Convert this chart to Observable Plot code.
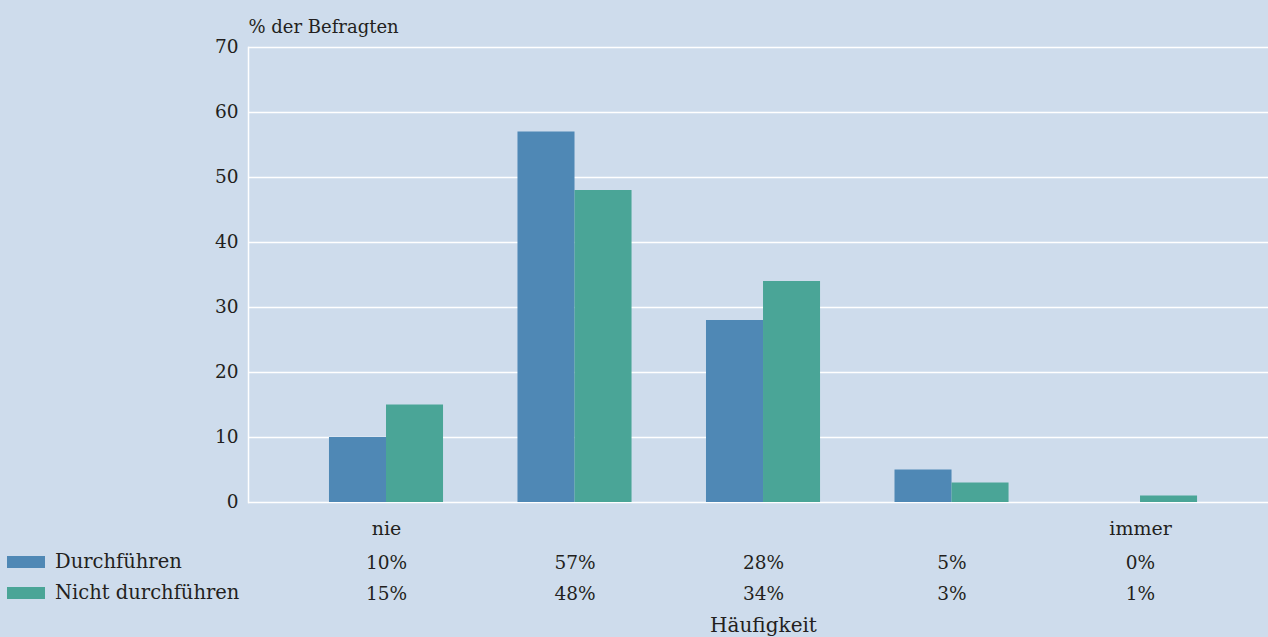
<!DOCTYPE html>
<html>
<head>
<meta charset="utf-8">
<script src="https://cdn.jsdelivr.net/npm/d3@7"></script>
<script src="https://cdn.jsdelivr.net/npm/@observablehq/plot@0.6"></script>
<style>
  html, body { margin: 0; padding: 0; background: #cedcec; }
  #wrap { position: relative; width: 1268px; height: 637px; background: #cedcec; font-family: "DejaVu Serif", serif; color: #231f20; }
  #legend { position: absolute; left: 7px; top: 546px; font-size: 19.5px; }
  .row { display: flex; align-items: center; height: 31px; }
  .sw { width: 38px; height: 12px; margin-right: 10px; }
</style>
</head>
<body>
<div id="wrap"><div id="legend"></div></div>
<script>
// ---- data ----
const categories = ["1", "2", "3", "4", "5"];
const scaleLabels = ["nie", "", "", "", "immer"];
const seriesNames = ["Durchführen", "Nicht durchführen"];
const durchfuehren = [10, 57, 28, 5, 0];
const nichtDurchfuehren = [15, 48, 34, 3, 1];
const yTicks = [0, 10, 20, 30, 40, 50, 60, 70];
const colors = ["#4f88b5", "#4aa597"];
const yLabel = "% der Befragten";
const xLabel = "Häufigkeit";

const rows = categories.map((c, i) => ({
  cat: c, label: scaleLabels[i], d: durchfuehren[i], n: nichtDurchfuehren[i]
}));

const W = 1268, H = 637, mL = 248, mR = 0, mT = 47, mB = 135;
const xOpts = { paddingInner: 0.395, paddingOuter: 0.403, align: 0.533 };
const band = d3.scaleBand(categories, [mL, W - mR])
  .paddingInner(xOpts.paddingInner).paddingOuter(xOpts.paddingOuter).align(xOpts.align);
const half = band.bandwidth() / 2;

const plot = Plot.plot({
  width: W, height: H,
  marginLeft: mL, marginRight: mR, marginTop: mT, marginBottom: mB,
  style: { background: "transparent", fontFamily: "DejaVu Serif, serif", color: "#231f20", fontSize: "18px", overflow: "visible" },
  x: { domain: categories, round: false, ...xOpts, axis: null },
  y: { domain: [0, 70], axis: null },
  marks: [
    Plot.gridY(yTicks, { stroke: "white", strokeOpacity: 1, strokeWidth: 1.5 }),
    Plot.frame({ anchor: "left", stroke: "white", strokeWidth: 1.5 }),
    Plot.barY(rows, { x: "cat", y: "d", fill: colors[0], insetRight: half, insetLeft: 0 }),
    Plot.barY(rows, { x: "cat", y: "n", fill: colors[1], insetLeft: half, insetRight: 0 }),
    Plot.axisY({ ticks: yTicks, tickSize: 0, tickPadding: 10, fontSize: 18.5, label: null, tickFormat: d => d }),
    Plot.text([yLabel], { frameAnchor: "top-left", dy: -27, textAnchor: "start", fontSize: 18 }),
    Plot.text(rows, { x: "cat", text: "label", frameAnchor: "bottom", dy: 32, fontSize: 19 }),
    Plot.text(rows, { x: "cat", text: d => d.d + "%", frameAnchor: "bottom", dy: 66, fontSize: 18.5 }),
    Plot.text(rows, { x: "cat", text: d => d.n + "%", frameAnchor: "bottom", dy: 97, fontSize: 18.5 }),
    Plot.text([xLabel], { x: () => categories[2], frameAnchor: "bottom", dy: 129, fontSize: 20 })
  ]
});
plot.style.position = "absolute";
plot.style.left = "0px";
plot.style.top = "0px";
document.getElementById("wrap").insertBefore(plot, document.getElementById("legend"));

const legend = document.getElementById("legend");
seriesNames.forEach((name, i) => {
  const r = document.createElement("div");
  r.className = "row";
  const s = document.createElement("span");
  s.className = "sw"; s.style.background = colors[i];
  const t = document.createElement("span");
  t.textContent = name;
  r.appendChild(s); r.appendChild(t);
  legend.appendChild(r);
});
</script>
</body>
</html>
